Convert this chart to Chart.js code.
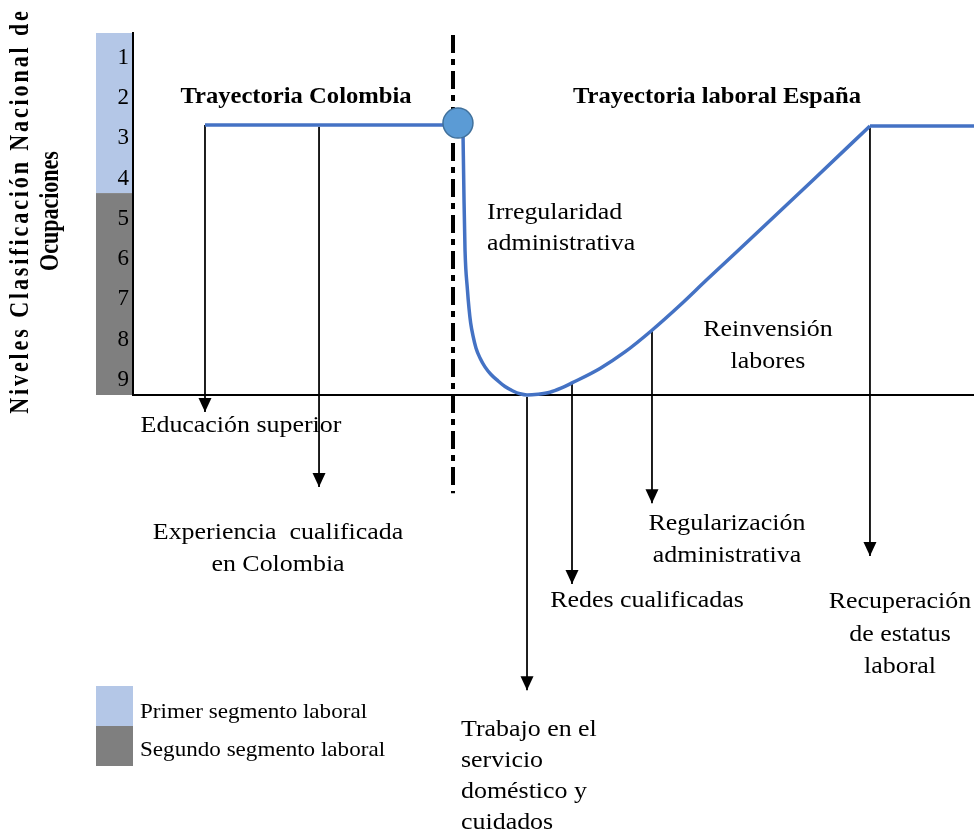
<!DOCTYPE html>
<html>
<head>
<meta charset="utf-8">
<script src="https://cdn.jsdelivr.net/npm/chart.js@4/dist/chart.umd.min.js"></script>
<style>
  html, body { margin: 0; padding: 0; background: #fff; overflow: hidden; }
  #wrap { width: 974px; height: 835px; position: relative; }
</style>
</head>
<body>
<div id="wrap"><canvas id="trayectoria"></canvas></div>
<script>
// occupation levels (1 = highest), reversed y axis
const levelTicks = ["1", "2", "3", "4", "5", "6", "7", "8", "9"];
const segmentNames = ["Primer segmento laboral", "Segundo segmento laboral"];
const segmentBounds = [0.38, 4.36, 9.38];

// trajectory in Colombia
const colombiaX = [8.56, 38.64];
const colombiaY = [2.67, 2.67];

// trajectory in Spain
const spainX = [39.24, 39.36, 39.48, 39.77, 39.95, 40.15, 40.43, 40.78, 41.26, 41.85, 42.57, 43.40, 44.23, 45.18, 46.02, 46.85,
                48.16, 49.58, 50.89, 52.20, 55.53, 58.50, 61.71, 65.04, 68.25, 74.55, 81.09, 87.63];
const spainY = [2.87, 4.53, 5.78, 6.77, 7.22, 7.59, 7.91, 8.21, 8.46, 8.68, 8.87, 9.03, 9.17, 9.28, 9.35, 9.38,
                9.36, 9.31, 9.21, 9.08, 8.72, 8.31, 7.77, 7.15, 6.51, 5.28, 3.99, 2.69];
const spainFlatX = [87.63, 100];
const spainFlatY = [2.69, 2.69];

// migration point and border line
const migrationX = [38.64];
const migrationY = [2.62];
const borderX = [38.05, 38.05];
const borderY = [0.43, 11.82];

// arrows: x, start level, tip level
const arrowX    = [8.56, 22.12, 46.85, 52.20, 61.71, 87.63];
const arrowFrom = [2.67, 2.71, 9.43, 9.08, 7.77, 2.74];
const arrowTo   = [9.80, 11.67, 16.72, 14.08, 12.07, 13.38];
const arrowLabels = [
    ["Educación superior"],
    ["Experiencia  cualificada", "en Colombia"],
    ["Trabajo en el", "servicio", "doméstico y", "cuidados"],
    ["Redes cualificadas"],
    ["Regularización", "administrativa"],
    ["Recuperación", "de estatus", "laboral"],
];
const phaseTitles = ["Trayectoria Colombia", "Trayectoria laboral España"];
const phaseNotes = [["Irregularidad", "administrativa"], ["Reinvensión", "labores"]];
const axisTitle = ["Niveles Clasificación Nacional de", "Ocupaciones"];

const SERIF = '"Liberation Serif", "Times New Roman", serif';
const segColors = ["#B4C7E7", "#7F7F7F"];

// text placement (pixels)
const arrowLabelPos = [
    { x: 241, y: [426], align: "center" },
    { x: 278, y: [533, 565], align: "center" },
    { x: 461, y: [730, 761, 792, 823], align: "left" },
    { x: 647, y: [601], align: "center" },
    { x: 727, y: [524, 556], align: "center" },
    { x: 900, y: [602, 635, 667], align: "center" },
];
const titlePos = [{ x: 296, y: 97 }, { x: 717, y: 97 }];
const notePos = [
    { x: 487, y: [213, 244], align: "left" },
    { x: 768, y: [330, 362], align: "center" },
];

const pts = (xs, ys) => xs.map((x, i) => ({ x, y: ys[i] }));

function drawText(ctx, text, x, y, font, align, sx) {
    ctx.save();
    ctx.font = font;
    ctx.fillStyle = "#000";
    ctx.textAlign = align;
    ctx.textBaseline = "middle";
    ctx.translate(x, y);
    ctx.scale(sx, 1);
    ctx.fillText(text, 0, 0);
    ctx.restore();
}

const diagramPlugin = {
    id: "diagram",
    beforeDraw(chart) {
        const ctx = chart.ctx;
        const ys = chart.scales.y;
        ctx.save();
        ctx.fillStyle = "#fff";
        ctx.fillRect(0, 0, chart.width, chart.height);
        for (let i = 0; i < 2; i++) {
            const top = ys.getPixelForValue(segmentBounds[i]);
            const bot = ys.getPixelForValue(segmentBounds[i + 1]);
            ctx.fillStyle = segColors[i];
            ctx.fillRect(ys.left, top, ys.right - ys.left, bot - top);
        }
        ctx.restore();
    },
    afterDatasetsDraw(chart) {
        const ctx = chart.ctx;
        ctx.save();
        ctx.fillStyle = "#000";
        chart.data.datasets.forEach((ds, i) => {
            if (!ds.isArrow) return;
            const meta = chart.getDatasetMeta(i);
            const tip = meta.data[meta.data.length - 1];
            ctx.beginPath();
            ctx.moveTo(tip.x, tip.y);
            ctx.lineTo(tip.x - 6.5, tip.y - 14);
            ctx.lineTo(tip.x + 6.5, tip.y - 14);
            ctx.closePath();
            ctx.fill();
        });
        ctx.restore();
    },
    afterDraw(chart) {
        const ctx = chart.ctx;
        const reg = "24px " + SERIF;
        const bold = "bold 23px " + SERIF;

        phaseTitles.forEach((t, i) => drawText(ctx, t, titlePos[i].x, titlePos[i].y, bold, "center", 1.07));
        phaseNotes.forEach((lines, i) => lines.forEach((l, j) =>
            drawText(ctx, l, notePos[i].x, notePos[i].y[j], reg, notePos[i].align, 1.08)));
        arrowLabels.forEach((lines, i) => lines.forEach((l, j) =>
            drawText(ctx, l, arrowLabelPos[i].x, arrowLabelPos[i].y[j], reg, arrowLabelPos[i].align, 1.08)));

        // legend
        const ys = chart.scales.y;
        ctx.save();
        segColors.forEach((c, i) => {
            ctx.fillStyle = c;
            ctx.fillRect(ys.left, 686 + i * 40, ys.right - ys.left, 40);
        });
        ctx.restore();
        segmentNames.forEach((n, i) => drawText(ctx, n, 140, 712 + i * 38, "22px " + SERIF, "left", 1.05));

        // rotated axis title
        const titleX = [21, 51];
        const spacing = ["2.9px", "0px"];
        axisTitle.forEach((t, i) => {
            ctx.save();
            ctx.font = "bold 22px " + SERIF;
            ctx.fillStyle = "#000";
            ctx.textAlign = "center";
            ctx.textBaseline = "middle";
            ctx.letterSpacing = spacing[i];
            ctx.translate(titleX[i], 211);
            ctx.scale(1.2, 1);
            ctx.rotate(-Math.PI / 2);
            ctx.fillText(t, 0, 0);
            ctx.restore();
        });
    }
};

const datasets = [
    {
        data: pts(migrationX, migrationY),
        showLine: false,
        pointRadius: 15,
        pointBackgroundColor: "#5B9BD5",
        pointBorderColor: "#41719C",
        pointBorderWidth: 1.5,
    },
    {
        data: pts(colombiaX, colombiaY),
        showLine: true,
        borderColor: "#4472C4",
        borderWidth: 3.5,
        pointRadius: 0,
        clip: false,
    },
    {
        data: pts(spainFlatX, spainFlatY),
        showLine: true,
        borderColor: "#4472C4",
        borderWidth: 3.5,
        pointRadius: 0,
        clip: false,
    },
    {
        data: pts(spainX, spainY),
        showLine: true,
        borderColor: "#4472C4",
        borderWidth: 3.5,
        pointRadius: 0,
        cubicInterpolationMode: "monotone",
        clip: false,
    },
];

arrowX.forEach((x, i) => {
    datasets.push({
        isArrow: true,
        data: [{ x, y: arrowFrom[i] }, { x, y: arrowTo[i] }],
        showLine: true,
        borderColor: "#000",
        borderWidth: 1.75,
        pointRadius: 0,
        clip: false,
    });
});

datasets.push({
    data: pts(borderX, borderY),
    showLine: true,
    borderColor: "#000",
    borderWidth: 4,
    borderDash: [18, 6, 6, 6],
    borderCapStyle: "butt",
    pointRadius: 0,
    clip: false,
});

new Chart(document.getElementById("trayectoria"), {
    type: "scatter",
    data: { datasets },
    options: {
        responsive: true,
        maintainAspectRatio: false,
        animation: false,
        events: [],
        layout: {
            autoPadding: false,
            padding: { left: 96, top: 33, right: 0, bottom: 440 },
        },
        plugins: {
            legend: { display: false },
            tooltip: { enabled: false },
        },
        scales: {
            x: {
                type: "linear",
                min: 0,
                max: 100,
                ticks: { display: false },
                grid: { display: false, drawTicks: false },
                border: { color: "#000", width: 2 },
                afterFit(scale) { scale.height = 0; },
            },
            y: {
                type: "linear",
                reverse: true,
                min: segmentBounds[0],
                max: segmentBounds[2],
                afterBuildTicks(scale) {
                    scale.ticks = levelTicks.map((t, i) => ({ value: i + 1 }));
                },
                ticks: {
                    callback: (v, i) => levelTicks[i],
                    color: "#000",
                    padding: 4,
                    font: { family: SERIF, size: 23 },
                },
                grid: { display: false, drawTicks: false },
                border: { color: "#000", width: 2 },
                afterFit(scale) { scale.width = 37; },
            },
        },
    },
    plugins: [diagramPlugin],
});
</script>
</body>
</html>
